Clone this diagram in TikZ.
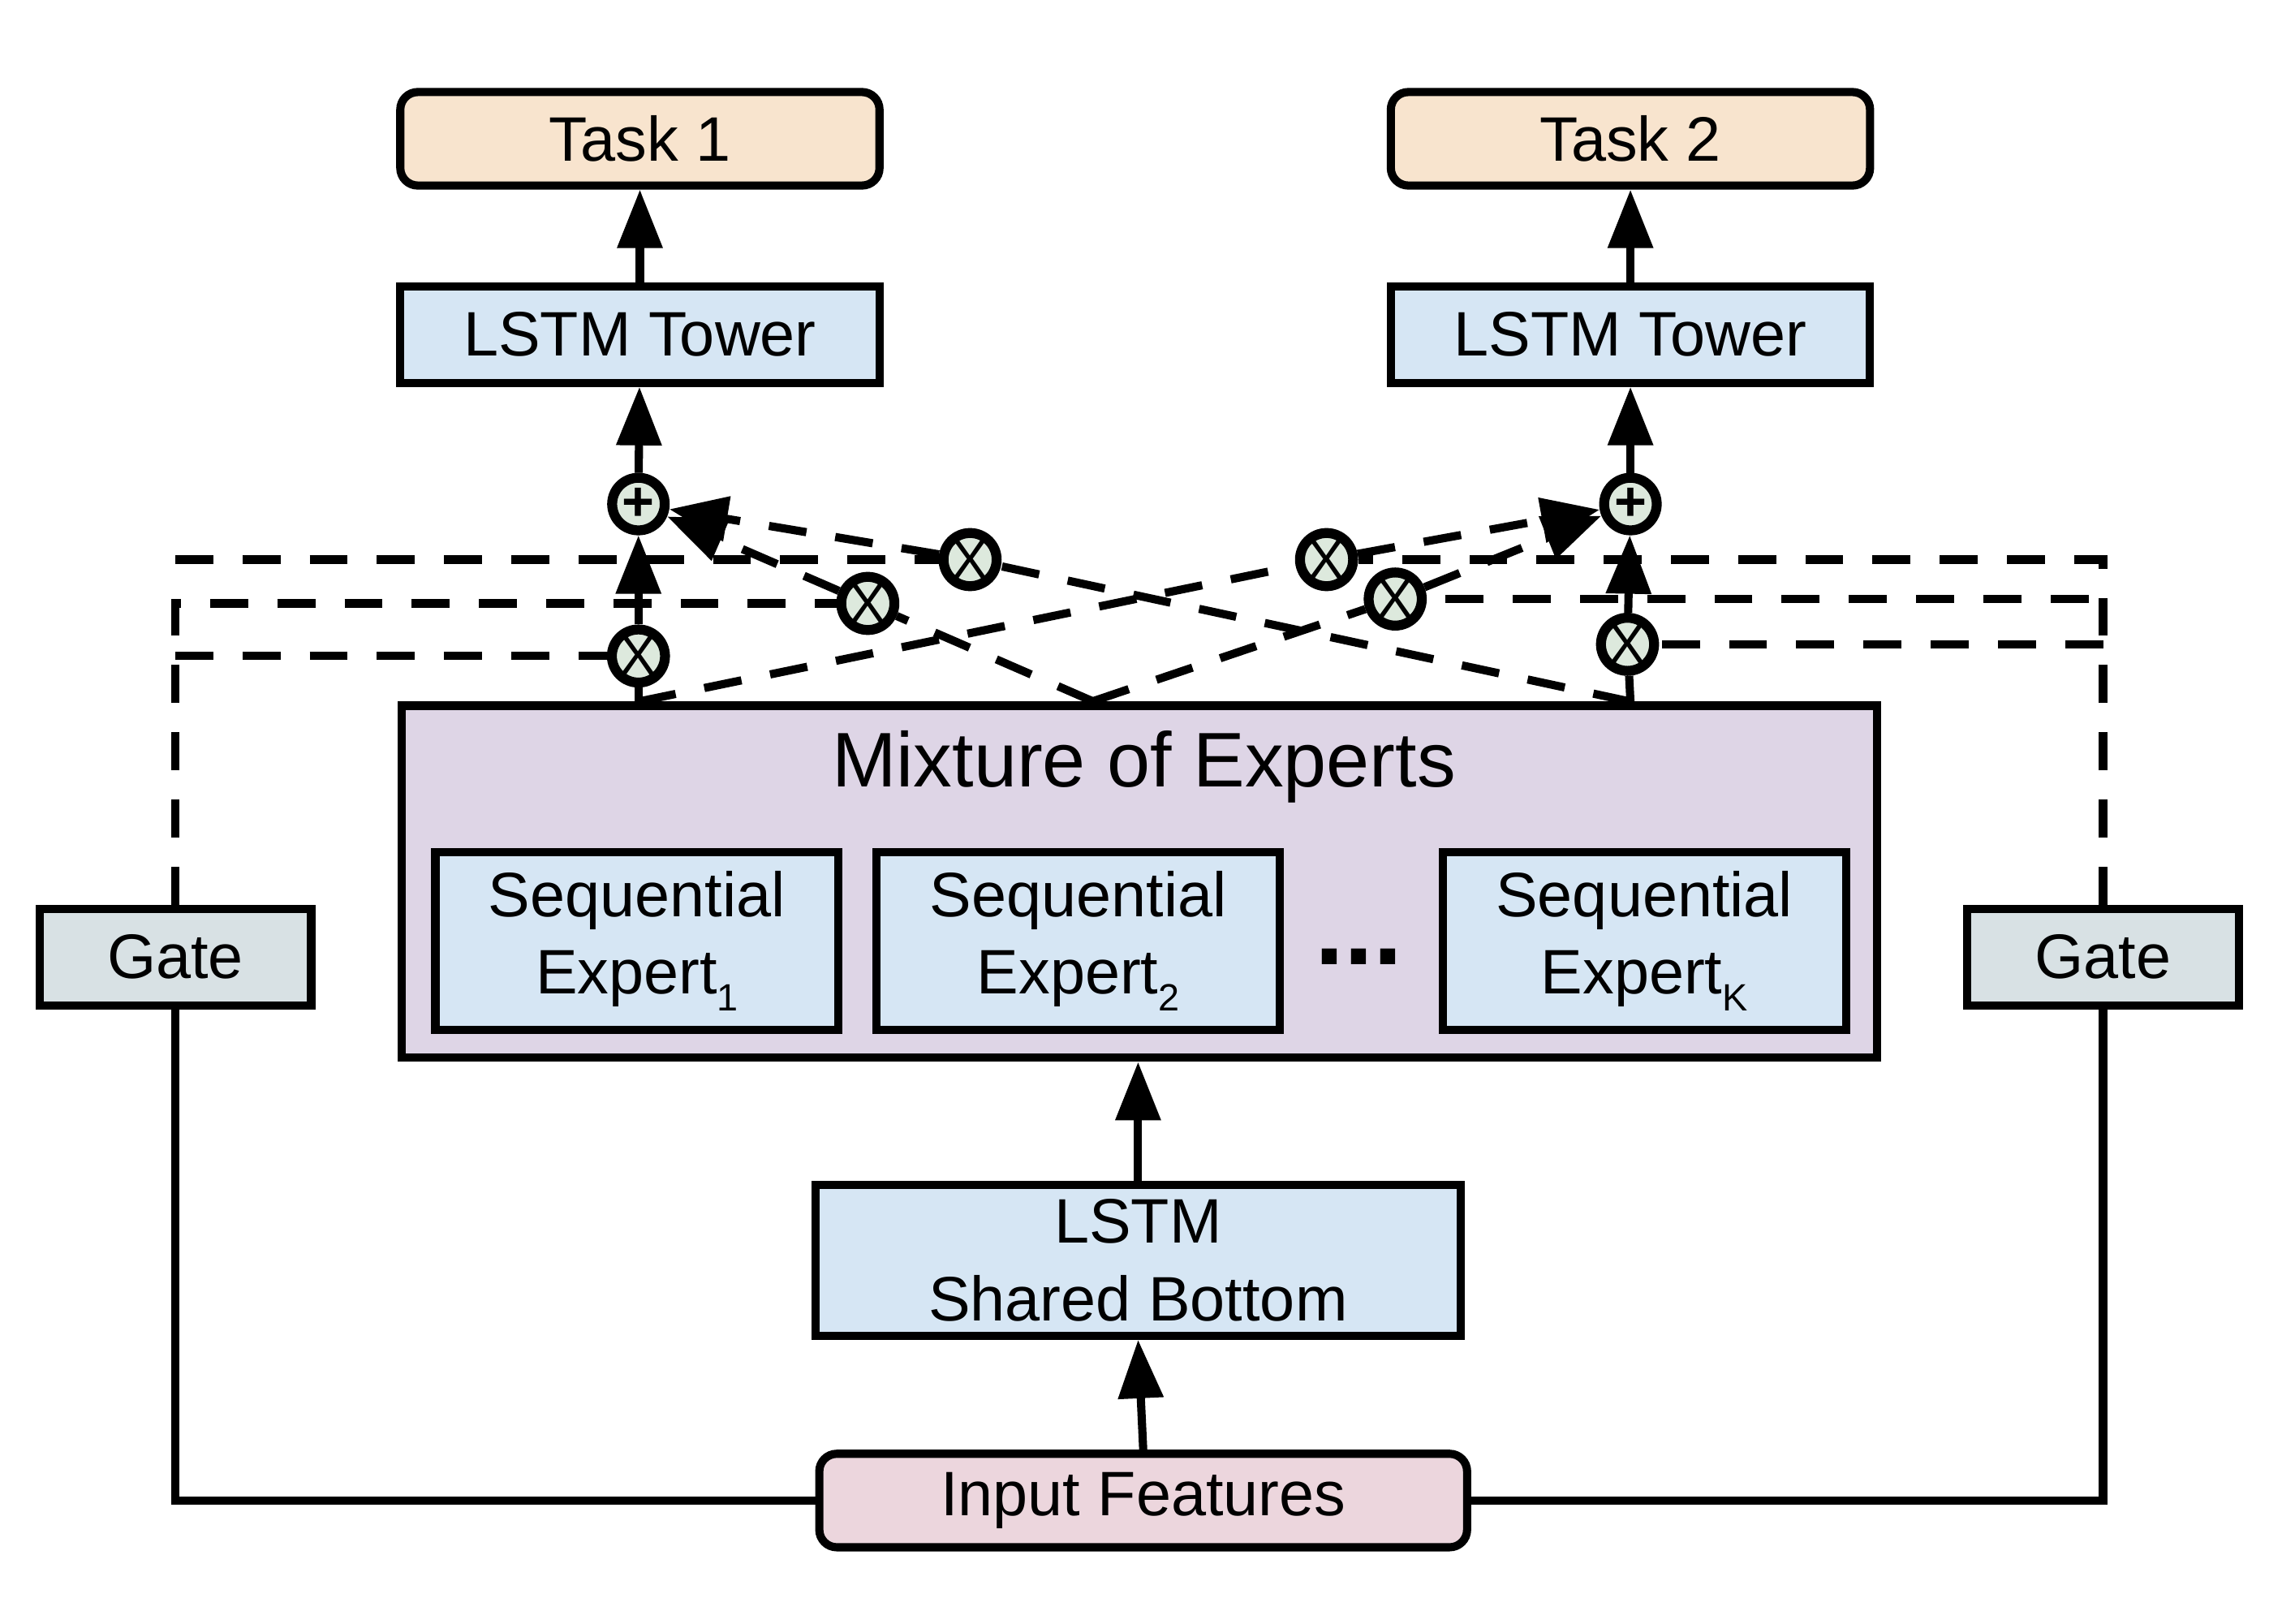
\documentclass[tikz,border=0pt]{standalone}
\usepackage{fontspec}
\setmainfont{Liberation Sans}
\usetikzlibrary{arrows.meta}
\definecolor{taskfill}{HTML}{F8E4CE}
\definecolor{towerfill}{HTML}{D6E6F4}
\definecolor{moefill}{HTML}{DED5E6}
\definecolor{inputfill}{HTML}{ECD6DD}
\definecolor{gatefill}{HTML}{D8E1E4}
\definecolor{opfill}{HTML}{DDE9DD}
\newcommand{\esub}[1]{\raisebox{-0.5ex}{\fontsize{13}{13}\selectfont #1}}
\begin{document}
\begin{tikzpicture}[x=0.5pt,y=-0.5pt,line width=2.8pt,>={Triangle[length=20pt,width=15pt]},
	box/.style={draw,rectangle,inner sep=0pt,align=center,font=\fontsize{21.5}{26.5}\selectfont},
	taskbox/.style={box,rounded corners=6pt,fill=taskfill,minimum width=164pt,minimum height=32pt},
	towerbox/.style={box,fill=towerfill,minimum width=164pt,minimum height=33pt},
	expbox/.style={box,fill=towerfill,minimum width=138pt,minimum height=61pt},
	gatebox/.style={box,fill=gatefill,minimum width=93pt,minimum height=33pt},
	opnode/.style={draw,circle,line width=3.4pt,fill=opfill,minimum size=18pt,inner sep=0pt,font=\fontsize{19}{19}\selectfont},
	gateline/.style={dash pattern=on 13pt off 10pt}]
		\useasboundingbox (0,0) rectangle (1562,1111);
		% boxes
		\node[taskbox] (task1) at (438,95) {Task 1};
		\node[taskbox] (task2) at (1116,95) {Task 2};
		\node[towerbox] (tower1) at (438,229) {LSTM Tower};
		\node[towerbox] (tower2) at (1116,229) {LSTM Tower};
		\node[box,fill=moefill,minimum width=505pt,minimum height=120.5pt] (moe) at (780,603.5) {};
		\node[font=\fontsize{26.5}{30}\selectfont] (moetitle) at (783,525) {Mixture of Experts};
		\node[expbox] (exp1) at (436,644) {Sequential\\Expert\esub{1}};
		\node[expbox] (exp2) at (738,644) {Sequential\\Expert\esub{2}};
		\node[expbox] (expK) at (1125.5,644) {Sequential\\Expert\esub{K}};
		\node[anchor=base,font=\fontsize{36}{36}\selectfont\bfseries] (dots) at (930,660) {...};
		\node[box,fill=towerfill,minimum width=221pt,minimum height=51.7pt] (shared) at (779,862.5) {LSTM\\Shared Bottom};
		\node[box,rounded corners=6pt,fill=inputfill,minimum width=221.7pt,minimum height=32pt] (input) at (782.5,1027) {Input Features};
		\node[gatebox] (gate1) at (120,655) {Gate};
		\node[gatebox] (gate2) at (1439.5,655) {Gate};
		% sum and product nodes
		\node[opnode] (add1) at (437,345) {\bfseries +};
		\node[opnode] (add2) at (1116,345) {\bfseries +};
		\node[opnode] (mul11) at (437,449) {X};
		\node[opnode] (mul12) at (594,413) {X};
		\node[opnode] (mul13) at (664,383) {X};
		\node[opnode] (mul21) at (908,383) {X};
		\node[opnode] (mul22) at (955,410) {X};
		\node[opnode] (mul23) at (1114,441) {X};
		\coordinate (p1) at (moe.north -| add1);
		\coordinate (p2) at (748,480);
		\coordinate (p3) at (moe.north -| add2);
		% solid flow
		\draw[->] (tower1) -- (task1);
		\draw[->] (tower2) -- (task2);
		\draw[->] (add1) -- (tower1);
		\draw[->] (add2) -- (tower2);
		\draw[->] (mul11) -- (add1);
		\draw[->] (mul23) -- (add2);
		\draw (p1) -- (mul11);
		\draw (p3) -- (mul23);
		\draw[->] (shared.north) -- (shared.north |- moe.south);
		\draw[->] (input.north) -- (shared.south);
		\draw (gate1.south) |- (input.west);
		\draw (gate2.south) |- (input.east);
		% expert outputs
		\draw[gateline] (p1) -- (mul21);
		\draw[gateline] (p2) -- (mul12);
		\draw[gateline] (p2) -- (mul22);
		\draw[gateline] (p3) -- (mul13);
		\draw[gateline,->] (mul12) -- (add1);
		\draw[gateline,->] (mul13) -- (add1);
		\draw[gateline,->] (mul21) -- (add2);
		\draw[gateline,->] (mul22) -- (add2);
		% gate weights
		\draw[gateline] (gate1.north) |- (mul12);
		\draw[gateline] (gate1.north |- mul11) -- (mul11);
		\draw[gateline] (gate1.north |- mul13) -- (mul13);
		\draw[gateline] (gate2.north) |- (mul21);
		\draw[gateline] ([xshift=-5pt]gate2.north |- mul22) -- (mul22);
		\draw[gateline] (gate2.north |- mul23) -- (mul23);
\end{tikzpicture}
\end{document}
